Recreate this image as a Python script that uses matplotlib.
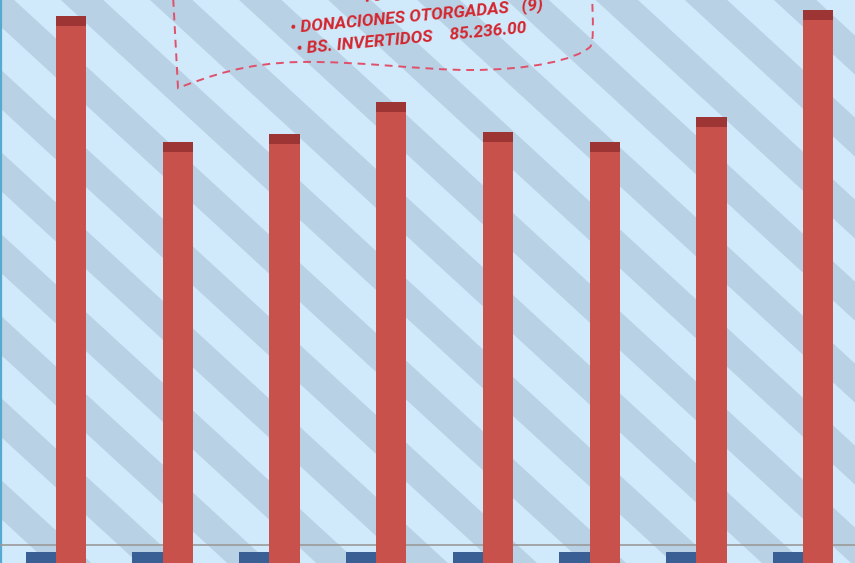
import numpy as np
import matplotlib
matplotlib.use('Agg')
import matplotlib.pyplot as plt
from matplotlib.path import Path
from matplotlib.patches import PathPatch, Polygon

# bar values (chart units, 0 = bottom of the visible area)
groups = np.arange(8)
red_vals = [547, 421, 429, 461, 431, 421, 446, 553]
blue_vals = [11, 11, 11, 11, 11, 11, 11, 11]
grid_level = 18

note_title = 'TOTALES'
note_lines = ['\u2022 DONACIONES OTORGADAS   (9)',
              '\u2022 BS. INVERTIDOS    85.236.00']

W, H = 855, 563
red = '#c9514c'
red_top = '#9c3533'
blue = '#3a5f94'
bg_light = '#d0e9fb'
bg_dark = '#b8d1e4'
txt_red = '#d4262e'


def main():
    fig = plt.figure(figsize=(W / 100, H / 100), dpi=100)

    # background with diagonal stripes, drawn in pixel coordinates
    bg = fig.add_axes([0, 0, 1, 1])
    bg.set_xlim(0, W)
    bg.set_ylim(H, 0)
    bg.set_facecolor(bg_light)
    bg.axis('off')
    bg.add_patch(Polygon([(0, 0), (W, 0), (W, H), (0, H)], closed=True,
                         facecolor=bg_light, edgecolor='none', zorder=0))
    slope, period, band, y0 = 0.92, 82, 39, 233
    for k in range(-20, 12):
        yk = y0 + k * period
        pts = [(0, yk), (W, yk + slope * W), (W, yk + band + slope * W), (0, yk + band)]
        bg.add_patch(Polygon(pts, closed=True, facecolor=bg_dark, edgecolor='none', zorder=1))
    bg.axvline(0.8, color='#56a9cf', lw=1.6, zorder=2)

    # wavy dashed frame around the note
    verts = [(173, -5), (178, 88),
             (210, 76), (245, 63), (300, 62),
             (360, 61), (420, 70), (470, 70),
             (530, 70), (575, 60), (590, 47),
             (594, 43), (593, 20), (592, -5)]
    codes = [Path.MOVETO, Path.LINETO] + [Path.CURVE4] * 12
    bg.add_patch(PathPatch(Path(verts, codes), facecolor='none', edgecolor='#e0506a',
                           lw=1.4, linestyle=(0, (4, 3)), zorder=3))

    fam = ['Liberation Sans Narrow', 'Roboto', 'DejaVu Sans']
    tkw = dict(color=txt_red, fontsize=12.5, fontweight='bold', fontstyle='italic',
               family=fam, rotation=5.3, rotation_mode='anchor',
               ha='left', va='baseline', zorder=4)
    bg.text(363, 2, note_title, **tkw)
    bg.text(291, 32, note_lines[0], **tkw)
    bg.text(297, 54, note_lines[1], **tkw)

    # bars
    ax = fig.add_axes([0, 0, 1, 1])
    ax.patch.set_alpha(0)
    ax.set_xlim(-0.525, 7.488)
    ax.set_ylim(0, H)
    ax.axis('off')
    w = 0.284
    cap = 10
    ax.axhline(grid_level, color='#9a9a9a', lw=1.2, zorder=1)
    ax.bar(groups - w / 2, blue_vals, width=w, color=blue, zorder=2)
    ax.bar(groups + w / 2, red_vals, width=w, color=red, zorder=3)
    ax.bar(groups + w / 2, cap, bottom=np.array(red_vals) - cap, width=w, color=red_top, zorder=4)

    plt.savefig('out.png', dpi=100)
    plt.close()


if __name__ == '__main__':
    main()
